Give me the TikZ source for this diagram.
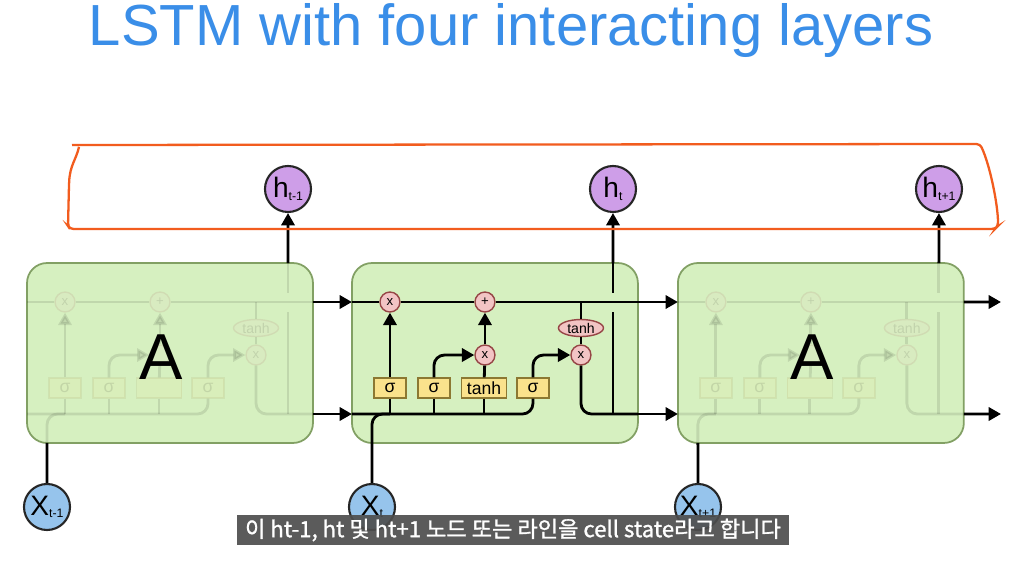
\documentclass[tikz,border=0pt]{standalone}
\usepackage{fontspec}
\setmainfont{Liberation Sans}
\newfontfamily\krfont[FakeBold=1.2]{Noto Sans CJK KR}
\usepackage{tikz}
\usetikzlibrary{arrows.meta,positioning,calc,shapes.geometric}

\definecolor{titleblue}{RGB}{58,142,232}
\definecolor{cellfill}{RGB}{214,240,192}
\definecolor{celldraw}{RGB}{130,160,100}
\definecolor{hfill}{RGB}{206,158,232}
\definecolor{xfill}{RGB}{150,196,236}
\definecolor{opfill}{RGB}{242,196,196}
\definecolor{opdraw}{RGB}{150,70,70}
\definecolor{gatefill}{RGB}{250,226,140}
\definecolor{gatedraw}{RGB}{140,120,50}
\definecolor{markorange}{RGB}{242,92,30}
\definecolor{subgray}{RGB}{78,78,78}

% labels that the big A covers in the faded modules
\newcommand\ilbl{x}
\newcommand\tblbl{tanh}
\newcommand\sub[1]{\raisebox{-1.5pt}{\fontsize{7}{7}\selectfont #1}}

\tikzset{
  wire/.style={line width=1.6pt, rounded corners=6pt},
  flow/.style={wire, -{Triangle[length=7pt,width=7.5pt]}},
  cellbox/.style={draw=celldraw, fill=cellfill, line width=1pt, rounded corners=0.4cm,
    minimum width=5.72cm, minimum height=3.6cm, outer sep=0pt},
  hnode/.style={circle, draw=black!85, line width=1.2pt, fill=hfill, minimum size=0.92cm,
    inner sep=0pt, font=\fontsize{16}{16}\selectfont},
  xnode/.style={hnode, fill=xfill},
  opnode/.style={circle, draw=opdraw, fill=opfill, line width=0.8pt, minimum size=0.4cm,
    inner sep=0pt, font=\fontsize{7.5}{7.5}\selectfont},
  tanhnode/.style={ellipse, draw=opdraw, fill=opfill, line width=0.8pt, minimum width=0.9cm,
    minimum height=0.34cm, inner sep=0pt, font=\fontsize{8}{8}\selectfont},
  gatebox/.style={draw=gatedraw, fill=gatefill, line width=0.8pt, minimum width=0.64cm,
    minimum height=0.4cm, inner sep=1pt, font=\fontsize{10}{10}\selectfont},
  biglabel/.style={font=\fontsize{37}{37}\selectfont},
  titletext/.style={text=titleblue, font=\fontsize{33}{36}\selectfont},
  markline/.style={draw=markorange, line width=1.3pt, rounded corners=2pt},
  subbox/.style={fill=subgray, fill opacity=0.92, text opacity=1, text=white,
    minimum width=11.06cm, minimum height=0.62cm, inner sep=0pt,
    font=\krfont\fontsize{12.6}{13}\selectfont},
  cellinside/.pic={
    % ends of the two lines
    \coordinate (-cin) at (0,39);
    \coordinate (-cout) at (286,39);
    \coordinate (-hin) at (0,151);
    \coordinate (-hout) at (286,151);
    \coordinate (-top) at (261,0);
    \coordinate (-hgap) at (261,30);
    \coordinate (-htap) at (261,49);
    \coordinate (-bot) at (20,180);
    % pointwise ops and layers
    \node[opnode] (-f) at (38,39) {x};
    \node[opnode] (-add) at (133,39) {+};
    \node[opnode] (-i) at (133,92) {\ilbl};
    \node[opnode] (-o) at (229,92) {x};
    \node[tanhnode] (-th) at (229,65) {tanh};
    \node[gatebox] (-s1) at (38,125) {σ};
    \node[gatebox] (-s2) at (82,125) {σ};
    \node[gatebox, minimum width=0.9cm] (-tb) at (132,125) {\tblbl};
    \node[gatebox] (-s3) at (181,125) {σ};
    % cell state
    \draw[wire] (-cin) -- (-f) -- (-add) -- (-cout);
    % input side
    \draw[wire] (-hin) -| (-s3.south);
    \draw[wire] (-bot) |- (-s1.south |- -hin);
    \draw[wire] (-s1.south) -- (-s1.south |- -hin);
    \draw[wire] (-s2.south) -- (-s2.south |- -hin);
    \draw[wire] (-tb.south) -- (-tb.south |- -hin);
    \draw[flow] (-s1) -- (-f);
    \draw[flow] (-s2.north) |- (-i.west);
    \draw[wire] (-tb) -- (-i);
    \draw[flow] (-i) -- (-add);
    \draw[flow] (-s3.north) |- (-o.west);
    % output side
    \draw[wire] (-th.north) -- (-th.north |- -cin);
    \draw[wire] (-th) -- (-o);
    \draw[wire] (-o.south) |- (-hout);
    \draw[wire] (-top) -- (-hgap);
    \draw[wire] (-htap) -- (-htap |- -hout);
  }
}

\begin{document}
\begin{tikzpicture}[x=0.02cm, y=-0.02cm]
\useasboundingbox[fill=white] (0,0) rectangle (1019,574);

% Title
\node[titletext, anchor=base] (title) at (511,46) {LSTM with four interacting layers};

% Three repeating modules
\node[cellbox] (boxl) at (170,353) {};
\node[cellbox, right=0.78cm of boxl] (boxm) {};
\node[cellbox, right=0.8cm of boxm] (boxr) {};

\begin{scope}[opacity=0.1]
  \def\ilbl{}\def\tblbl{}
  \pic (left) at (boxl.north west) {cellinside};
  \pic (right) at (boxr.north west) {cellinside};
\end{scope}
\pic (mid) at (boxm.north west) {cellinside};

\node[biglabel] (aleft) at (161,357) {A};
\node[biglabel] (aright) at (812,357) {A};

% Links between modules
\coordinate (endc) at (1001,302);
\coordinate (endh) at (1001,414);
\draw[flow] (left-cout) -- (mid-cin);
\draw[flow] (left-hout) -- (mid-hin);
\draw[flow] (mid-cout) -- (right-cin);
\draw[flow] (mid-hout) -- (right-hin);
\draw[flow] (right-cout) -- (endc);
\draw[flow] (right-hout) -- (endh);

% Outputs
\node[hnode] (hl) at (288,189) {h\sub{t-1}};
\node[hnode] (hm) at (613,189) {h\sub{t}};
\node[hnode] (hr) at (939,189) {h\sub{t+1}};
\draw[flow] (left-top) -- (hl);
\draw[flow] (mid-top) -- (hm);
\draw[flow] (right-top) -- (hr);

% Inputs
\node[xnode] (xl) at (47,507) {X\sub{t-1}};
\node[xnode] (xm) at (372,507) {X\sub{t}};
\node[xnode] (xr) at (698,507) {X\sub{t+1}};
\draw[wire] (xl) -- (left-bot);
\draw[wire] (xm) -- (mid-bot);
\draw[wire] (xr) -- (right-bot);

% Hand-drawn mark round the outputs
\draw[markline] (72,145) -- (980,144) .. controls (990,165) and (998,205) .. (998,226)
  -- (995,229) -- (70,229) -- (68,226) -- (69,185) .. controls (70,165) and (76,160) .. (79,147);

% Caption
\node[subbox] (sub) at (513,530) {이 ht-1, ht 및 ht+1 노드 또는 라인을 cell state라고 합니다};
\end{tikzpicture}
\end{document}
